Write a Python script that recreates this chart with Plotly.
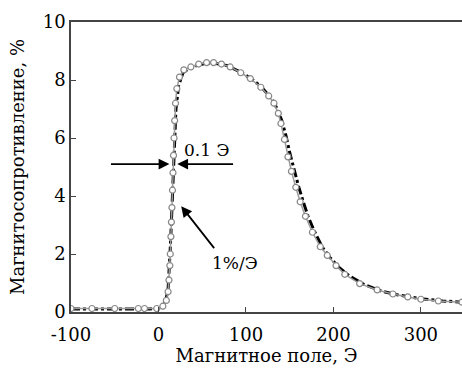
import plotly.graph_objects as go

# Grey curve with open circle markers (field in Oe, magnetoresistance in %)
field_a = [-100, -76, -50, -23, -16, -2, 5, 9, 11, 12, 13, 13.5, 14.2, 14.8, 15.4, 16, 16.6, 17.2,
           17.8, 18.5, 19.5, 21, 24, 29, 37, 46, 55, 63, 72, 82, 94, 105, 117, 126, 132, 137,
           140, 144, 148, 152, 157, 162, 168, 176, 185, 193, 203, 213, 230, 250, 268, 285, 300, 320, 347]
mr_a = [0.12, 0.12, 0.12, 0.12, 0.12, 0.12, 0.2, 0.4, 0.7, 1.1, 1.6, 2.0, 2.6, 3.1, 3.6, 4.2, 4.8, 5.4,
        6.0, 6.6, 7.2, 7.7, 8.1, 8.35, 8.45, 8.55, 8.6, 8.6, 8.55, 8.45, 8.25, 8.05, 7.75, 7.45, 7.2, 6.85,
        6.5, 5.95, 5.35, 4.85, 4.3, 3.8, 3.3, 2.75, 2.25, 1.95, 1.6, 1.3, 0.98, 0.76, 0.62, 0.52, 0.44, 0.38, 0.34]

# Black dash-dot curve
field_b = [-100, -50, -10, 3, 8, 11, 12.5, 13.5, 14.5, 15.5, 16.5, 17.5, 18.5, 20, 23, 28, 36, 46,
           56, 66, 78, 92, 106, 118, 128, 135, 141, 146, 150, 155, 160, 165, 171, 178, 187,
           196, 206, 218, 235, 255, 275, 300, 325, 347]
mr_b = [0.1, 0.1, 0.1, 0.15, 0.35, 0.8, 1.5, 2.2, 2.9, 3.7, 4.5, 5.3, 6.1, 7.0, 7.8, 8.25, 8.42, 8.52,
        8.58, 8.57, 8.5, 8.3, 8.05, 7.75, 7.4, 7.05, 6.6, 6.05, 5.5, 4.9, 4.35, 3.85, 3.3, 2.8, 2.25,
        1.88, 1.55, 1.25, 0.95, 0.72, 0.58, 0.46, 0.38, 0.34]

x_ticks = [-100, 0, 100, 200, 300]
x_tick_text = ["-100", "0", "100", "200", "300"]
y_ticks = [0, 2, 4, 6, 8, 10]

font_family = "DejaVu Serif"

fig = go.Figure()
fig.add_trace(go.Scatter(
    x=field_b, y=mr_b, mode="lines",
    line=dict(color="black", width=3, dash="dashdot"),
    showlegend=False))
fig.add_trace(go.Scatter(
    x=field_a, y=mr_a, mode="lines+markers",
    line=dict(color="#9a9a9a", width=1.5),
    marker=dict(symbol="circle", size=6, color="white", line=dict(color="#888888", width=1.2)),
    showlegend=False))

# Horizontal double arrow indicating 0.1 Oe
fig.add_annotation(x=12.5, y=5.1, ax=-56, ay=5.1, xref="x", yref="y", axref="x", ayref="y",
                   showarrow=True, arrowhead=2, arrowsize=1.2, arrowwidth=1.8, arrowcolor="black", text="")
fig.add_annotation(x=21.5, y=5.1, ax=87, ay=5.1, xref="x", yref="y", axref="x", ayref="y",
                   showarrow=True, arrowhead=2, arrowsize=1.2, arrowwidth=1.8, arrowcolor="black", text="")
fig.add_annotation(x=27, y=5.6, xref="x", yref="y", text="0.1 Э", showarrow=False,
                   xanchor="left", yanchor="middle", font=dict(family=font_family, size=17, color="black"))

# Slope arrow 1%/Oe
fig.add_annotation(x=26, y=3.65, ax=65, ay=2.15, xref="x", yref="y", axref="x", ayref="y",
                   showarrow=True, arrowhead=2, arrowsize=1.2, arrowwidth=1.8, arrowcolor="black", text="")
fig.add_annotation(x=87, y=1.7, xref="x", yref="y", text="1%/Э", showarrow=False,
                   xanchor="center", yanchor="middle", font=dict(family=font_family, size=17, color="black"))

fig.update_layout(
    width=462, height=369,
    margin=dict(l=71, r=0, t=22, b=57),
    paper_bgcolor="white", plot_bgcolor="white",
    font=dict(family=font_family, size=18, color="black"),
    xaxis=dict(range=[-100, 347], tickvals=x_ticks, ticktext=x_tick_text, ticks="inside", ticklen=5,
               tickcolor="#444", ticklabelstandoff=6,
               showline=True, linecolor="#444", linewidth=1.5, mirror=True, showgrid=False,
               zeroline=False, title=dict(text="Магнитное поле, Э", standoff=2,
                                          font=dict(family=font_family, size=18))),
    yaxis=dict(range=[0, 10], tickvals=y_ticks, ticks="inside", ticklen=5, tickcolor="#444",
               showline=True, linecolor="#444", linewidth=1.5, showgrid=False, zeroline=False,
               title=dict(text="Магнитосопротивление, %", standoff=13,
                          font=dict(family=font_family, size=18))),
)

fig.write_html("out.html")
